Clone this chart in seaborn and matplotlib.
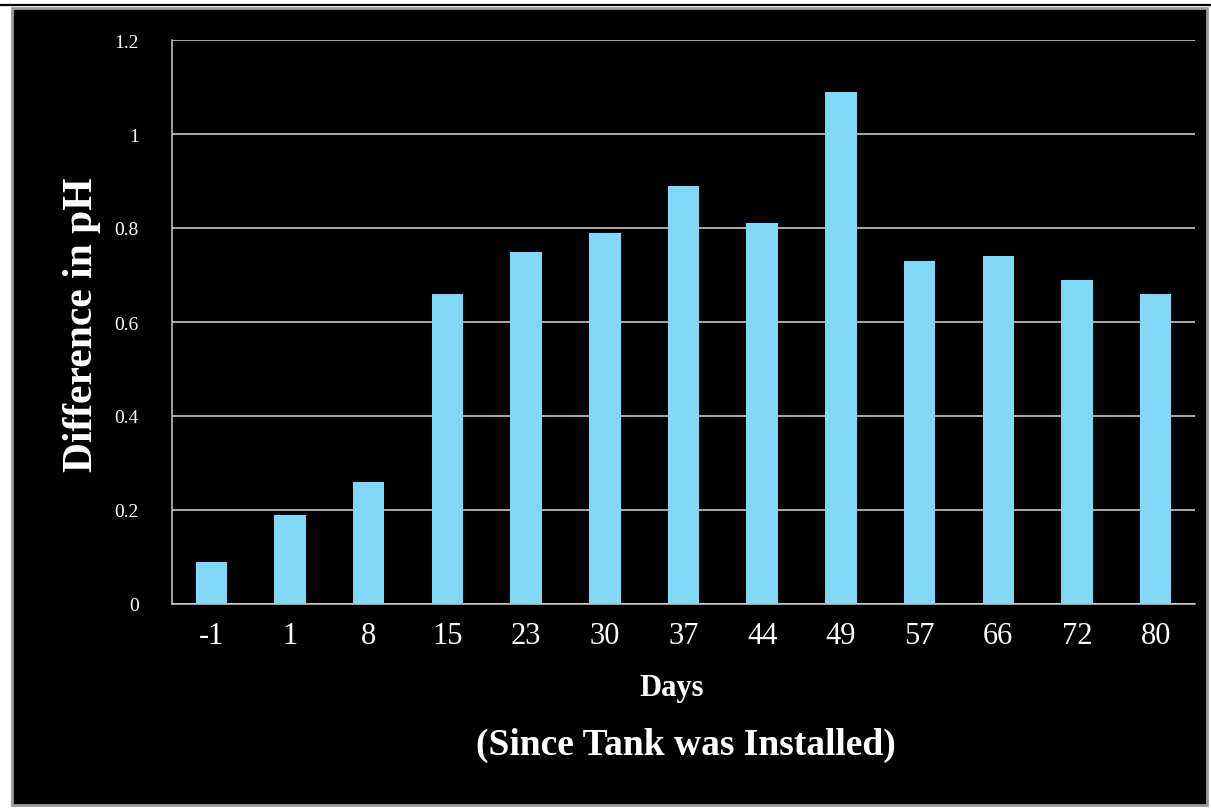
import matplotlib
matplotlib.use("Agg")
import matplotlib.pyplot as plt
from matplotlib.patches import Rectangle
from matplotlib.lines import Line2D
import pandas as pd
import seaborn as sns

days = ["-1", "1", "8", "15", "23", "30", "37", "44", "49", "57", "66", "72", "80"]
ph_diff = [0.09, 0.19, 0.26, 0.66, 0.75, 0.79, 0.89, 0.81, 1.09, 0.73, 0.74, 0.69, 0.66]
y_ticks = [0, 0.2, 0.4, 0.6, 0.8, 1.0, 1.2]
y_tick_labels = ["0", "0.2", "0.4", "0.6", "0.8", "1", "1.2"]

df = pd.DataFrame({"Days": days, "pH": ph_diff})

sns.set_theme(style="dark")
plt.rcParams["font.family"] = ["Liberation Serif", "DejaVu Serif"]

W, H = 1211, 812
fig = plt.figure(figsize=(W / 100, H / 100), dpi=100, facecolor="white")

# rule across the top of the page
fig.lines.append(Line2D([0, 1], [1 - 5.5 / H, 1 - 5.5 / H], transform=fig.transFigure,
                        color="black", linewidth=1.6, zorder=-10))

# black slide panel with a thin grey frame, kept behind the axes
fig.patches.append(Rectangle((12 / W, 1 - 806 / H), (1207 - 12) / W, (806 - 9) / H,
                             transform=fig.transFigure, facecolor="black",
                             edgecolor="#9a9a9a", linewidth=2, zorder=-10))

ax = fig.add_axes([172 / W, 1 - 605 / H, (1195 - 172) / W, (605 - 41) / H])
ax.set_facecolor("black")

sns.barplot(data=df, x="Days", y="pH", order=days, color="#80d8f6",
            saturation=1, width=0.4, linewidth=0, ax=ax, zorder=3)

ax.set_ylim(0, 1.2)
ax.set_xlim(-0.5, len(days) - 0.5)
ax.set_yticks(y_ticks)
ax.set_yticklabels(y_tick_labels)
ax.yaxis.grid(True, color="#d8d8d8", linewidth=1.1, zorder=1)
ax.xaxis.grid(False)
ax.set_axisbelow(True)

for side in ["top", "right"]:
    ax.spines[side].set_visible(False)
for side in ["left", "bottom"]:
    ax.spines[side].set_visible(True)
    ax.spines[side].set_color("#cfcfcf")
    ax.spines[side].set_linewidth(1.1)

ax.tick_params(axis="y", length=0, pad=24, labelsize=14, labelcolor="white")
ax.tick_params(axis="x", length=0, pad=12, labelsize=22, labelcolor="white")

ax.set_xlabel("")
ax.set_ylabel("")

fig.text(82 / W, 1 - 325 / H, "Difference in pH", rotation=90, color="white",
         fontsize=30, fontweight="bold", ha="center", va="center")
fig.text(672 / W, 1 - 689 / H, "Days", color="white", fontsize=22,
         fontweight="bold", ha="center", va="center")
fig.text(686 / W, 1 - 745 / H, "(Since Tank was Installed)", color="white",
         fontsize=27, fontweight="bold", ha="center", va="center")

fig.savefig("out.png", dpi=100, facecolor="white")
